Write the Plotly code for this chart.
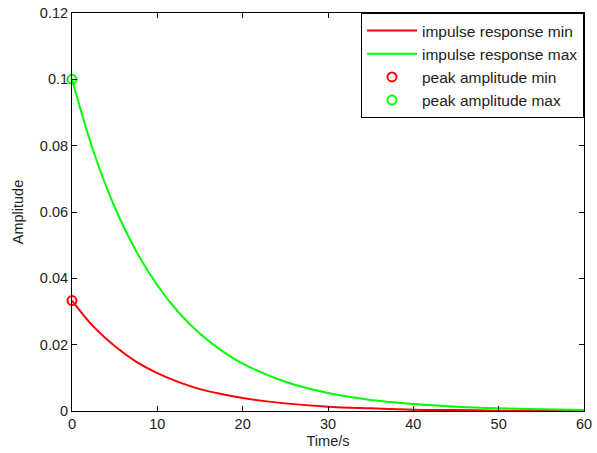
import plotly.graph_objects as go

# Values
time_s = [0, 2.5, 5, 7.5, 10, 12.5, 15, 17.5, 20, 25, 30, 35, 40, 45, 50, 55, 60]
resp_min = [0.0333, 0.0255, 0.0196, 0.0149, 0.0114, 0.0087, 0.0066, 0.0051, 0.0039,
            0.0023, 0.0013, 0.0008, 0.0004, 0.0003, 0.0001, 0.0001, 0.0]
resp_max = [0.1, 0.0784, 0.0615, 0.0483, 0.0379, 0.0297, 0.0233, 0.0183, 0.0143,
            0.0088, 0.0054, 0.0033, 0.0021, 0.0013, 0.0008, 0.0005, 0.0003]
peak_time = [0]
peak_min = [0.0333]
peak_max = [0.1]

x_ticks = [0, 10, 20, 30, 40, 50, 60]
y_ticks = [0, 0.02, 0.04, 0.06, 0.08, 0.1, 0.12]

FONT = "Liberation Sans, Arial"
FS = 14.5

fig = go.Figure()
fig.add_trace(go.Scatter(x=time_s, y=resp_min, mode="lines", name="impulse response min",
                         line=dict(color="#ff0000", width=2, shape="spline")))
fig.add_trace(go.Scatter(x=time_s, y=resp_max, mode="lines", name="impulse response max",
                         line=dict(color="#00ff00", width=2, shape="spline")))
fig.add_trace(go.Scatter(x=peak_time, y=peak_min, mode="markers", name="peak amplitude min",
                         marker=dict(symbol="circle-open", color="#ff0000", size=9,
                                     line=dict(width=2, color="#ff0000")), cliponaxis=False))
fig.add_trace(go.Scatter(x=peak_time, y=peak_max, mode="markers", name="peak amplitude max",
                         marker=dict(symbol="circle-open", color="#00ff00", size=9,
                                     line=dict(width=2, color="#00ff00")), cliponaxis=False))

axis_common = dict(
    showgrid=False, zeroline=False, showline=True, linecolor="black", linewidth=1,
    mirror="ticks", ticks="inside", ticklen=5, tickcolor="black", automargin=False,
    tickfont=dict(family=FONT, size=FS, color="#222"),
)
fig.update_xaxes(range=[0, 60], tickvals=x_ticks, title=dict(text="Time/s", standoff=4,
                 font=dict(family=FONT, size=FS, color="#222")), **axis_common)
fig.update_yaxes(range=[0, 0.12], tickvals=y_ticks, title=dict(text="Amplitude", standoff=12,
                 font=dict(family=FONT, size=FS, color="#222")), **axis_common)

fig.update_layout(
    width=597, height=453,
    margin=dict(l=72, r=13, t=13, b=42),
    paper_bgcolor="white", plot_bgcolor="white",
    font=dict(family=FONT, size=FS, color="#222"),
    legend=dict(x=1, y=1, xanchor="right", yanchor="top", bordercolor="black", borderwidth=1,
                bgcolor="white", font=dict(size=15.5, family=FONT, color="#222"),
                itemwidth=50),
)
fig.write_html("out.html", config={"displayModeBar": False},
               post_script="document.body.style.margin='0px';document.body.style.overflow='hidden';")
